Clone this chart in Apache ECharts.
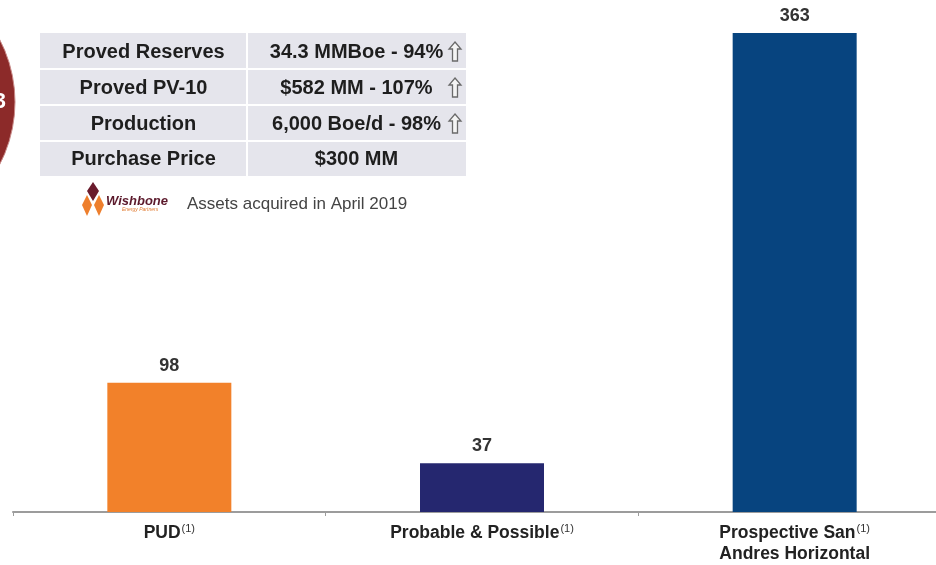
<!DOCTYPE html>
<html>
<head>
<meta charset="utf-8">
<script src="https://cdn.jsdelivr.net/npm/echarts@6/dist/echarts.min.js"></script>
<style>
  html, body { margin: 0; padding: 0; background: #ffffff; overflow: hidden; }
  #chart { width: 951px; height: 565px; }
</style>
</head>
<body>
<div id="chart"></div>
<script>
// Resource categories and their values (MMBoe)
const categories = ['PUD', 'Probable & Possible', 'Prospective San Andres Horizontal'];
const tickLabels = ['PUD', 'Probable & Possible', 'Prospective San\nAndres Horizontal'];
const values = [98, 37, 363];
const barColors = ['#f2812a', '#25276f', '#07447f'];

// Acquisition summary table
const tableLabels = ['Proved Reserves', 'Proved PV-10', 'Production', 'Purchase Price'];
const tableValues = ['34.3 MMBoe - 94%', '$582 MM - 107%', '6,000 Boe/d - 98%', '$300 MM'];
const tableArrows = [true, true, true, false];
const footnoteText = 'Assets acquired in April 2019';

const FONT = '"Liberation Sans", Arial, sans-serif';

const chart = echarts.init(document.getElementById('chart'), null, { renderer: 'canvas' });

// Table geometry
const tX = 40, tY = 33, tW = 426, colSplit = 247;
const rowEdges = [33, 69, 105, 141, 176];

const graphics = [];

// Partial red badge at the left edge
graphics.push({
  type: 'circle', shape: { cx: -120, cy: 102, r: 135 },
  style: { fill: '#8c2a29', stroke: '#c98a88', lineWidth: 1 }, z: 1
});
graphics.push({
  type: 'text', x: 6, y: 102,
  style: { text: '3', fill: '#ffffff', font: 'bold 22px ' + FONT, align: 'right', verticalAlign: 'middle' }, z: 2
});

// Table background and cells
graphics.push({
  type: 'rect', shape: { x: tX, y: tY, width: tW, height: rowEdges[4] - tY },
  style: { fill: '#e5e5ec' }, z: 1
});
for (let i = 1; i < 4; i++) {
  graphics.push({
    type: 'rect', shape: { x: tX, y: rowEdges[i] - 1, width: tW, height: 2 },
    style: { fill: '#ffffff' }, z: 2
  });
}
graphics.push({
  type: 'rect', shape: { x: colSplit - 1, y: tY, width: 2, height: rowEdges[4] - tY },
  style: { fill: '#ffffff' }, z: 2
});
tableLabels.forEach((lab, i) => {
  const cy = (rowEdges[i] + rowEdges[i + 1]) / 2 + 1;
  graphics.push({
    type: 'text', x: (tX + colSplit) / 2, y: cy,
    style: { text: lab, fill: '#1e1e1e', font: 'bold 20px ' + FONT, align: 'center', verticalAlign: 'middle' }, z: 3
  });
  graphics.push({
    type: 'text', x: (colSplit + tX + tW) / 2, y: cy,
    style: { text: tableValues[i], fill: '#1e1e1e', font: 'bold 20px ' + FONT, align: 'center', verticalAlign: 'middle' }, z: 3
  });
  if (tableArrows[i]) {
    const ax = 455, top = cy - 10, bot = cy + 9;
    graphics.push({
      type: 'polygon',
      shape: { points: [[ax, top], [ax + 6, top + 7], [ax + 2.5, top + 7], [ax + 2.5, bot], [ax - 2.5, bot], [ax - 2.5, top + 7], [ax - 6, top + 7]] },
      style: { fill: '#f4f4f4', stroke: '#6a6a6a', lineWidth: 1.3 }, z: 3
    });
  }
});

// Wishbone logo mark
graphics.push({
  type: 'polygon', shape: { points: [[93, 182], [99, 191], [93, 201], [87, 191]] },
  style: { fill: '#6a1b2c' }, z: 3
});
graphics.push({
  type: 'polygon', shape: { points: [[87, 195], [92, 205], [87, 216], [82, 205]] },
  style: { fill: '#ee7f2d' }, z: 3
});
graphics.push({
  type: 'polygon', shape: { points: [[99, 195], [104, 205], [99, 216], [94, 205]] },
  style: { fill: '#ee7f2d' }, z: 3
});
graphics.push({
  type: 'text', x: 106, y: 201,
  style: { text: 'Wishbone', fill: '#5c1a2c', font: 'italic bold 13px ' + FONT, align: 'left', verticalAlign: 'middle' }, z: 3
});
graphics.push({
  type: 'text', x: 122, y: 210,
  style: { text: 'Energy Partners', fill: '#e07a30', font: 'italic 5px ' + FONT, align: 'left', verticalAlign: 'middle' }, z: 3
});
graphics.push({
  type: 'text', x: 187, y: 204,
  style: { text: footnoteText, fill: '#444444', font: '17px ' + FONT, align: 'left', verticalAlign: 'middle' }, z: 3
});

const option = {
  animation: false,
  backgroundColor: '#ffffff',
  grid: { left: 13, top: 0, right: 0, bottom: 53, containLabel: false },
  xAxis: {
    type: 'category',
    data: categories,
    axisLine: { show: true, lineStyle: { color: '#9c9c9c', width: 2 } },
    axisTick: { show: true, alignWithLabel: false, length: 4, lineStyle: { color: '#9c9c9c', width: 1 } },
    axisLabel: {
      interval: 0,
      margin: 11,
      formatter: function (val, idx) {
        const lines = tickLabels[idx].split('\n');
        lines[0] = '{t|' + lines[0] + '}{sup|(1)}';
        for (let k = 1; k < lines.length; k++) lines[k] = '{t|' + lines[k] + '}';
        return lines.join('\n');
      },
      rich: {
        t: { fontFamily: FONT, fontSize: 17.5, fontWeight: 'bold', color: '#222222', lineHeight: 21 },
        sup: { fontFamily: FONT, fontSize: 11, color: '#333333', padding: [0, 0, 9, 1], lineHeight: 21 }
      }
    }
  },
  yAxis: { type: 'value', min: 0, max: 388, show: false, splitLine: { show: false } },
  series: [{
    type: 'bar',
    data: values.map((v, i) => ({ value: v, itemStyle: { color: barColors[i] } })),
    barWidth: 124,
    label: {
      show: true, position: 'top', distance: 8,
      fontFamily: FONT, fontSize: 18, fontWeight: 'bold', color: '#333333'
    }
  }],
  graphic: graphics
};

chart.setOption(option);
</script>
</body>
</html>
